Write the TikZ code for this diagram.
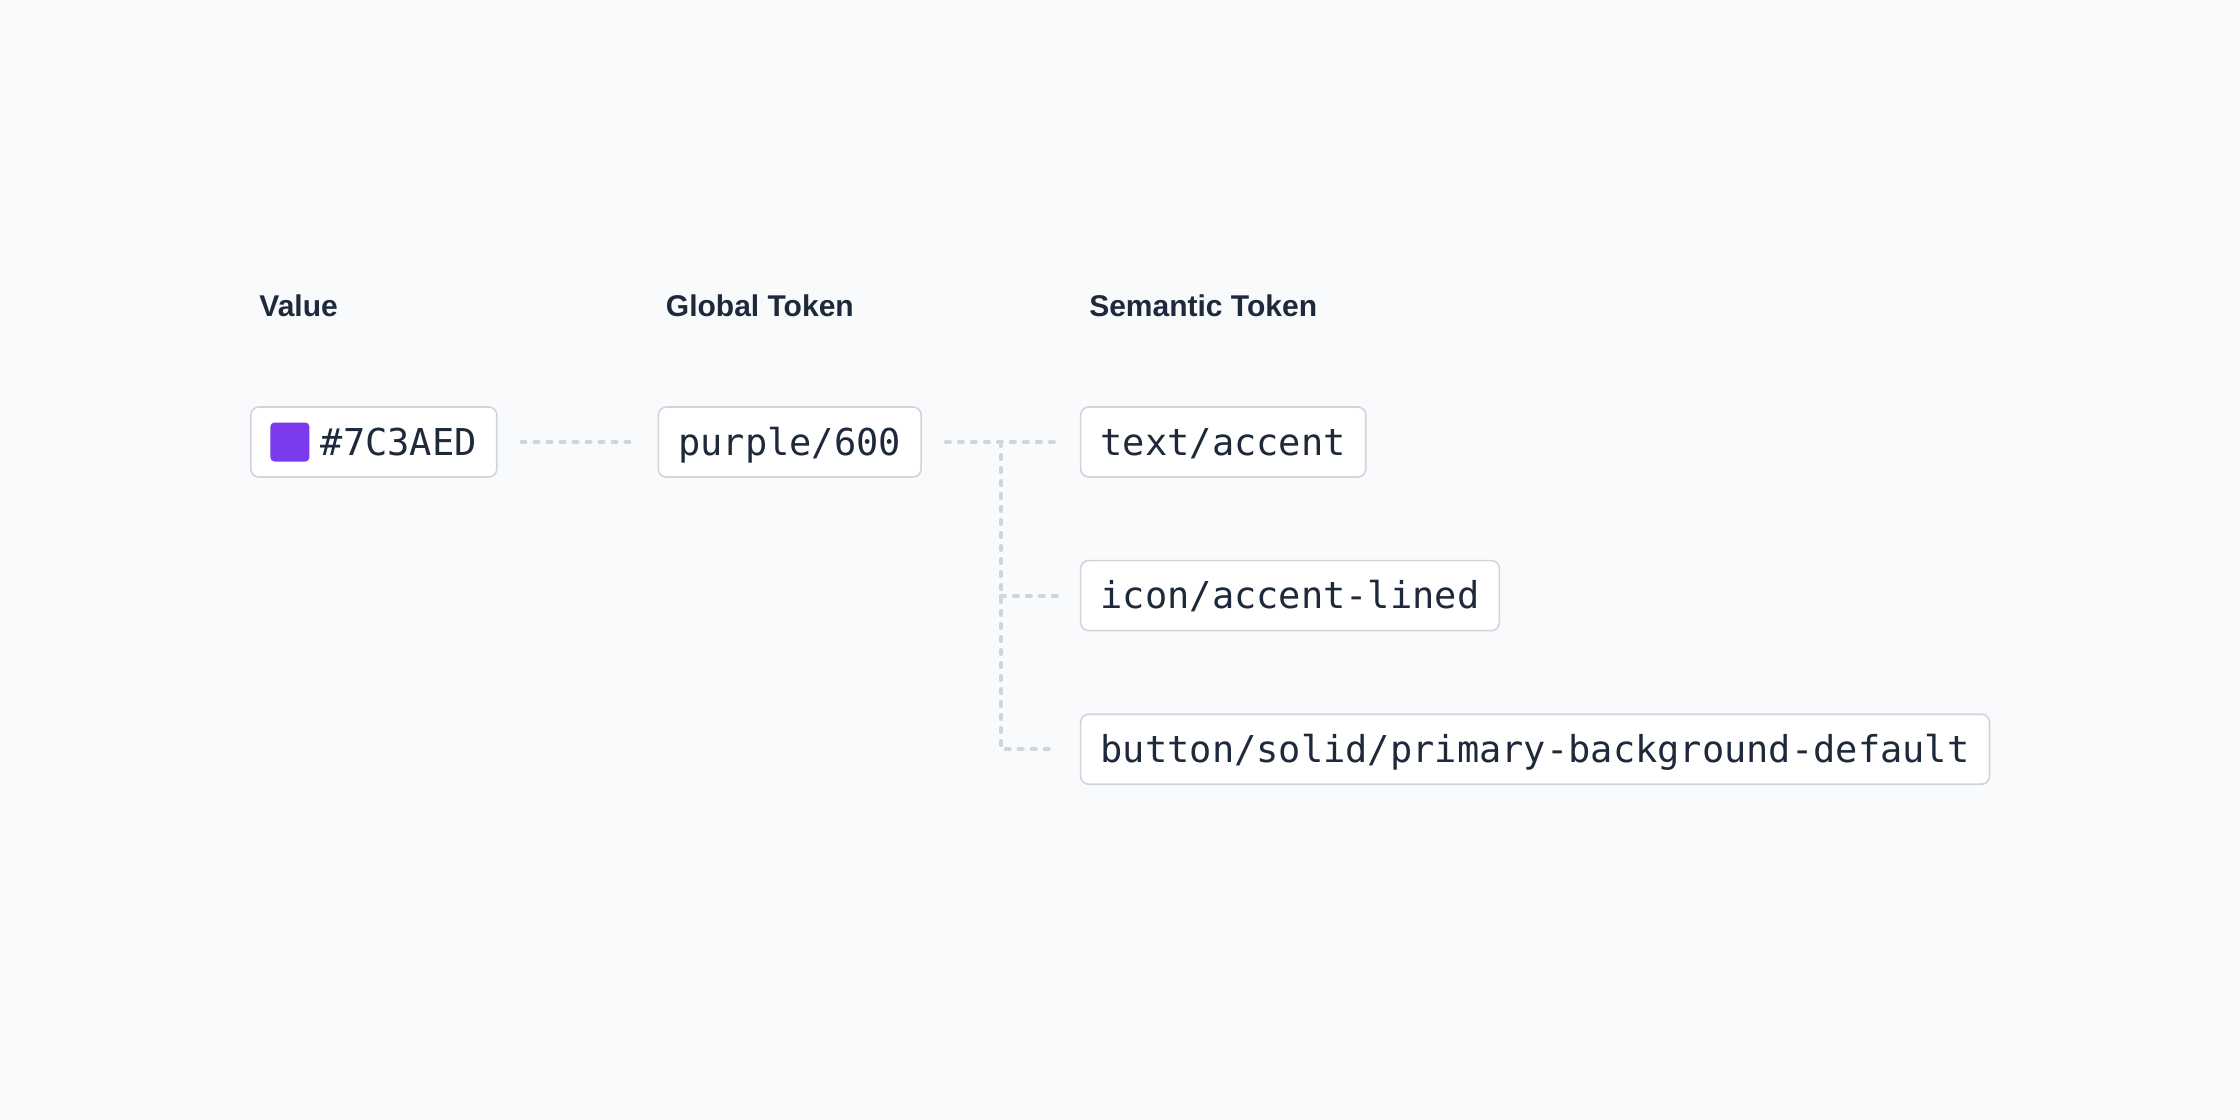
\documentclass[tikz,border=0pt]{standalone}
\usepackage{fontspec}
\setmainfont{Liberation Sans}
\setmonofont{DejaVu Sans Mono}
\usetikzlibrary{calc}
\usetikzlibrary{positioning}
\definecolor{bgcol}{HTML}{F8FAFC}
\definecolor{boxline}{HTML}{D1D5DB}
\definecolor{ink}{HTML}{1E293B}
\definecolor{swatch}{HTML}{7C3AED}

\begin{document}
\begin{tikzpicture}[tok/.style={draw=boxline, line width=0.8pt, fill=white, rounded corners=4pt, minimum height=35pt, inner xsep=10pt, text height=17pt, text depth=4pt, font=\ttfamily\fontsize{18.5pt}{22pt}\selectfont, text=ink},
	head/.style={font=\bfseries\fontsize{15pt}{18pt}\selectfont, text=ink, anchor=west, inner sep=0pt},
	link/.style={draw=boxline, line width=2pt, line cap=round, dash pattern=on 2pt off 4.5pt, shorten <=12pt, shorten >=11.5pt}]
		
		\fill[bgcol] (0,0) rectangle (1120pt,-560pt);
		\useasboundingbox (0,0) rectangle (1120pt,-560pt);
		
		\node[tok, anchor=west] (V) at (125pt,-221pt) {\hspace*{25pt}\#7C3AED};
		\node[fill=swatch, rounded corners=2pt, minimum size=19.5pt, inner sep=0pt, right=10pt of V.west] (SW) {};
		\node[tok, right=80pt of V] (P) {purple/600};
		\node[tok, right=79pt of P] (T) {text/accent};
		\node[tok, below right=41pt and 0pt of T.south west] (I) {icon/accent-lined};
		\node[tok, below right=41pt and 0pt of I.south west] (B) {button/solid/primary-background-default};
		\node[head] (hV) at ([xshift=4.5pt, yshift=50pt]V.north west) {Value};
		\node[head] (hP) at ([xshift=4pt, yshift=50pt]P.north west) {Global Token};
		\node[head] (hT) at ([xshift=4.5pt, yshift=50pt]T.north west) {Semantic Token};
		\coordinate (J) at ($(P.east)!0.5!(T.west)$);
		\draw[link] (V) -- (P);
		\draw[link] (P) -- (T);
		\draw[link, shorten <=0pt] (J) |- (B.west);
		\draw[link, shorten <=0pt] (J |- I.west) -- (I.west);
		\end{tikzpicture}
\end{document}
